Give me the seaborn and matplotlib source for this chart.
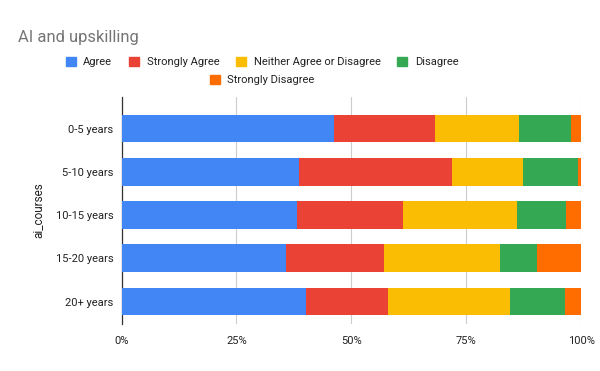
import matplotlib
matplotlib.use('Agg')
import matplotlib.pyplot as plt
import matplotlib.patches as mpatches
from matplotlib.ticker import PercentFormatter
import seaborn as sns
import numpy as np
import pandas as pd

# Data (share of responses, %)
experience = ['0-5 years', '5-10 years', '10-15 years', '15-20 years', '20+ years']
responses = ['Agree', 'Strongly Agree', 'Neither Agree or Disagree', 'Disagree', 'Strongly Disagree']
agree = [46.2, 38.6, 38.2, 35.8, 40.2]
strongly_agree = [22.0, 33.3, 23.1, 21.3, 17.8]
neither = [18.3, 15.5, 24.7, 25.3, 26.5]
disagree = [11.3, 11.9, 10.7, 8.0, 12.0]
strongly_disagree = [2.2, 0.7, 3.3, 9.6, 3.5]
colors = ['#4285F4', '#EA4335', '#FBBC04', '#34A853', '#FF6D01']

wide = pd.DataFrame({
    'Agree': agree,
    'Strongly Agree': strongly_agree,
    'Neither Agree or Disagree': neither,
    'Disagree': disagree,
    'Strongly Disagree': strongly_disagree,
}, index=experience)
shares = wide.div(wide.sum(axis=1), axis=0) * 100
cum = shares.cumsum(axis=1)

sns.set_style('white')
plt.rcParams['font.family'] = ['Roboto', 'DejaVu Sans']

fig = plt.figure(figsize=(6, 3.71), dpi=100)
ax = fig.add_axes([0.2025, 0.1267, 0.766, 0.612])

# stacked bars: draw cumulative totals from the outermost segment inward
for resp, col in reversed(list(zip(responses, colors))):
    d = pd.DataFrame({'ai_courses': experience, 'value': cum[resp].values})
    sns.barplot(data=d, y='ai_courses', x='value', order=experience, color=col,
                width=0.64, orient='h', ax=ax, saturation=1, linewidth=0, zorder=3)

ax.set_xlim(0, 100)
ax.set_ylim(4.5 + 0.02, -0.73)
ax.xaxis.set_major_locator(plt.FixedLocator([0, 25, 50, 75, 100]))
ax.xaxis.set_major_formatter(PercentFormatter(decimals=0))
ax.grid(axis='x', color='#cccccc', linewidth=0.8, zorder=0)
ax.set_axisbelow(True)
for s in ['top', 'right', 'bottom']:
    ax.spines[s].set_visible(False)
ax.spines['left'].set_color('#333333')
ax.spines['left'].set_linewidth(0.9)
ax.tick_params(axis='both', length=0, labelsize=8, colors='#222222', pad=6)
ax.tick_params(axis='x', pad=9)
ax.set_xlabel('')
ax.set_ylabel('ai_courses', fontsize=8.5, color='#222222', labelpad=8)

fig.text(0.03, 0.90, 'AI and upskilling', fontsize=12, color='#757575', va='center')

handles = [mpatches.Patch(color=c, label=r) for r, c in zip(responses, colors)]
leg_kw = dict(frameon=False, fontsize=8, handlelength=0.9, handleheight=0.9,
              handletextpad=0.7, columnspacing=1.5, labelcolor='#222222')
fig.legend(handles=handles[:4], ncol=4, loc='center', bbox_to_anchor=(0.437, 0.833), **leg_kw)
fig.legend(handles=handles[4:], ncol=1, loc='center', bbox_to_anchor=(0.437, 0.784), **leg_kw)

fig.savefig('out.png', dpi=100, facecolor='white')
